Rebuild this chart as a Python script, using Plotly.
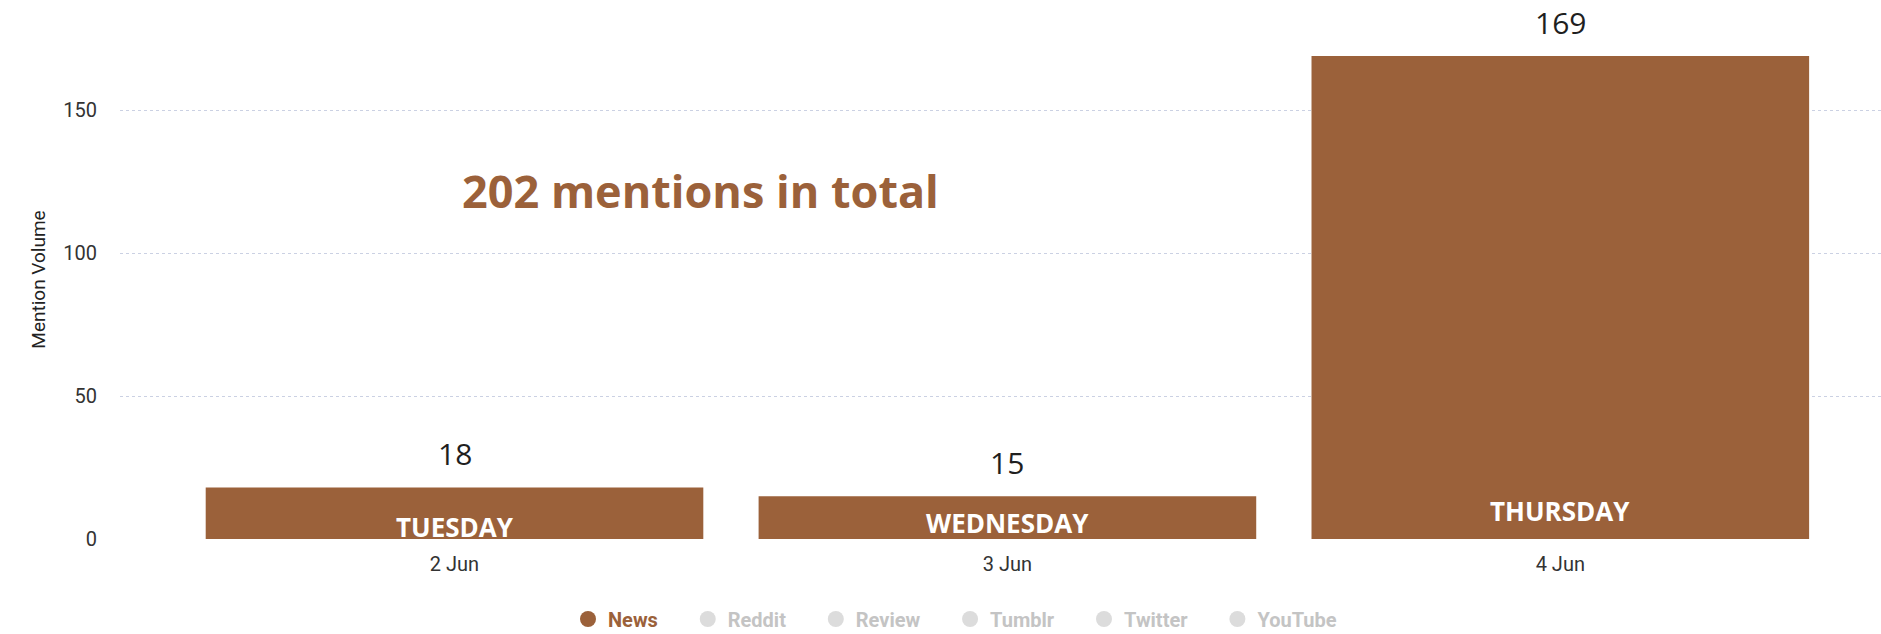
import plotly.graph_objects as go

# Daily mention volume (news source)
dates = ["2 Jun", "3 Jun", "4 Jun"]
weekdays = ["TUESDAY", "WEDNESDAY", "THURSDAY"]
mentions = [18, 15, 169]
sources = ["News", "Reddit", "Review", "Tumblr", "Twitter", "YouTube"]
y_ticks = [0, 50, 100, 150]

BROWN = "#9b613a"
GREY = "#dcdcdc"
GREY_TEXT = "#c4c4c4"

# vertical pixel offset of each weekday label above the baseline
weekday_shift = [12, 16, 28]

fig = go.Figure()

fig.add_trace(go.Bar(
    x=dates, y=mentions,
    marker=dict(color=BROWN, line=dict(width=0)),
    showlegend=False, hoverinfo="x+y",
))

# legend entries: News active, other sources greyed out
pad = "&nbsp;" * 5
for i, src in enumerate(sources):
    active = src == "News"
    col = BROWN if active else GREY
    tail = pad if i < len(sources) - 1 else ""
    label = f"<span style='color:{BROWN if active else GREY_TEXT}'>{src}</span>{tail}"
    fig.add_trace(go.Scatter(
        x=[None], y=[None], mode="markers", name=label,
        marker=dict(symbol="circle", size=20, color=col),
    ))

# value labels above each bar
for d, v in zip(dates, mentions):
    fig.add_annotation(
        x=d, y=v, text=str(v), showarrow=False, yanchor="middle", yshift=34,
        font=dict(family="Open Sans", size=30, color="#1f1f1f"),
    )

# weekday labels inside the bars
for d, w, s in zip(dates, weekdays, weekday_shift):
    fig.add_annotation(
        x=d, y=0, text=f"<b>{w}</b>", showarrow=False, yanchor="middle", yshift=s,
        font=dict(family="Open Sans", size=26, color="white"),
    )

fig.add_annotation(
    xref="paper", yref="y", x=(700 - 120) / (1881 - 120), y=122,
    text=f"<b>{sum(mentions)} mentions in total</b>", showarrow=False,
    xanchor="center", yanchor="middle",
    font=dict(family="Open Sans", size=45, color=BROWN),
)

fig.update_layout(
    width=1881, height=634,
    margin=dict(l=120, r=0, t=20, b=95),
    paper_bgcolor="white", plot_bgcolor="white",
    bargap=0.1,
    font=dict(family="Roboto", size=20, color="#333333"),
    xaxis=dict(
        type="category", range=[-0.605, 2.58], showgrid=False, showline=False,
        zeroline=False, ticks="", ticklabelstandoff=11,
        tickfont=dict(family="Roboto", size=20, color="#333333"),
    ),
    yaxis=dict(
        range=[0, 181.6], tickvals=y_ticks, showgrid=True,
        gridcolor="#cbd1e3", griddash="dot", gridwidth=1,
        zeroline=False, showline=False, ticks="", ticklabelstandoff=22,
        tickfont=dict(family="Roboto", size=20, color="#333333"),
        title=dict(text="Mention Volume", standoff=12,
                   font=dict(family="Roboto", size=19, color="#222222")),
    ),
    legend=dict(
        orientation="h", xref="container", yref="container",
        x=955 / 1881, y=1 - 619 / 634, xanchor="center", yanchor="middle",
        font=dict(family="Roboto", size=20, weight="bold"),
        itemclick=False, itemdoubleclick=False, itemwidth=30,
    ),
)

fig.write_html("out.html")
